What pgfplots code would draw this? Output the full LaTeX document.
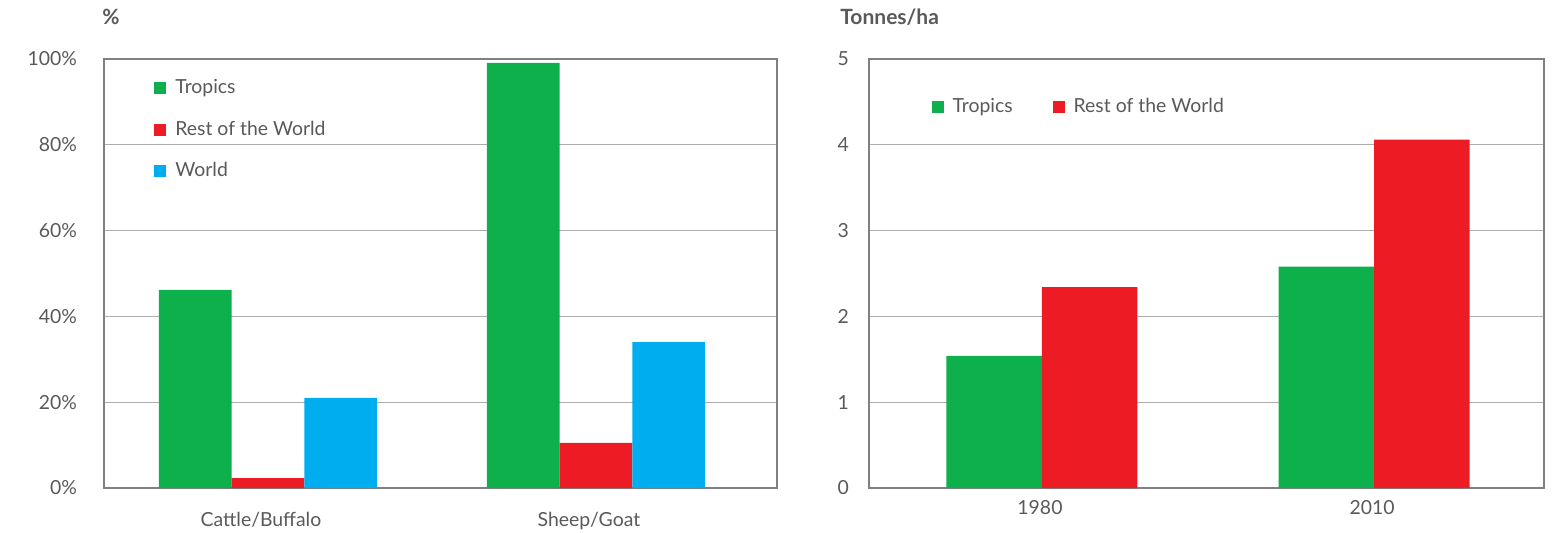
\documentclass[border=0pt]{standalone}
\usepackage{pgfplots}
\pgfplotsset{compat=1.18}
\usepackage{fontspec}
\setmainfont{Lato}
\definecolor{cgreen}{HTML}{0DB04B}
\definecolor{cred}{HTML}{ED1C24}
\definecolor{cblue}{HTML}{00AEEF}
\definecolor{textgray}{HTML}{58595B}
\definecolor{axisgray}{HTML}{808080}
\definecolor{gridgray}{HTML}{ADADAD}
\pgfplotsset{
  common/.style={
    scale only axis,
    anchor=south west,
    ymin=0,
    axis line style={draw=axisgray, line width=0.6pt},
    ymajorgrids, grid style={draw=gridgray, line width=0.5pt},
    major tick length=0pt,
    xtick=data,
    tick label style={font=\fontsize{9.7}{11}\selectfont, text=textgray},
    /pgf/number format/assume math mode=true,
    ybar=0pt,
    legend style={draw=none, fill=none, font=\fontsize{9.7}{11}\selectfont, text=textgray, inner sep=0pt},
    legend cell align=left,
    legend image code/.code={\fill[##1] (0pt,-3pt) rectangle (6pt,3pt); \path (8.5pt,0pt);},
  }
}
\begin{document}
\begin{tikzpicture}
\path[use as bounding box] (0pt,0pt) rectangle (781pt,266pt);
\begin{axis}[common,
  at={(52pt,22pt)}, width=336.5pt, height=214.5pt,
  xmin=-0.5, xmax=1.552, ymax=100,
  ytick={0,20,40,60,80,100},
  yticklabel={\pgfmathprintnumber{\tick}\%},
  yticklabel style={xshift=-10pt},
  xticklabels={Cattle/Buffalo, Sheep/Goat},
  xticklabel style={yshift=-8.5pt, xshift=-3.5pt},
  bar width=36.35pt,
  legend style={at={(0.0743,0.962)}, anchor=north west, row sep=8pt},
]
\addplot[fill=cgreen, draw=none] coordinates {(0,46.2) (1,99.1)};
\addplot[fill=cred, draw=none] coordinates {(0,2.3) (1,10.5)};
\addplot[fill=cblue, draw=none] coordinates {(0,21.0) (1,34.0)};
\legend{Tropics, Rest of the World, World}
\end{axis}
\begin{axis}[common,
  at={(434.5pt,22pt)}, width=337.5pt, height=214.5pt,
  xmin=-0.521, xmax=1.512, ymax=5,
  ytick={0,1,2,3,4,5},
  yticklabel style={xshift=-6.5pt},
  xticklabels={1980, 2010},
  xticklabel style={yshift=-2.5pt, xshift=-1pt},
  bar width=47.75pt,
  legend columns=-1,
  legend style={at={(0.092,0.919)}, anchor=north west,
    /tikz/every even column/.append style={column sep=18pt}},
]
\addplot[fill=cgreen, draw=none] coordinates {(0,1.54) (1,2.58)};
\addplot[fill=cred, draw=none] coordinates {(0,2.34) (1,4.06)};
\legend{Tropics, Rest of the World}
\end{axis}
\node[anchor=west, text=textgray, font=\fontsize{10.5}{12}\selectfont\bfseries, inner sep=0pt] at (51pt,257.5pt) {\%};
\node[anchor=west, text=textgray, font=\fontsize{10.5}{12}\selectfont\bfseries, inner sep=0pt] at (420pt,257.5pt) {Tonnes/ha};
\end{tikzpicture}
\end{document}
